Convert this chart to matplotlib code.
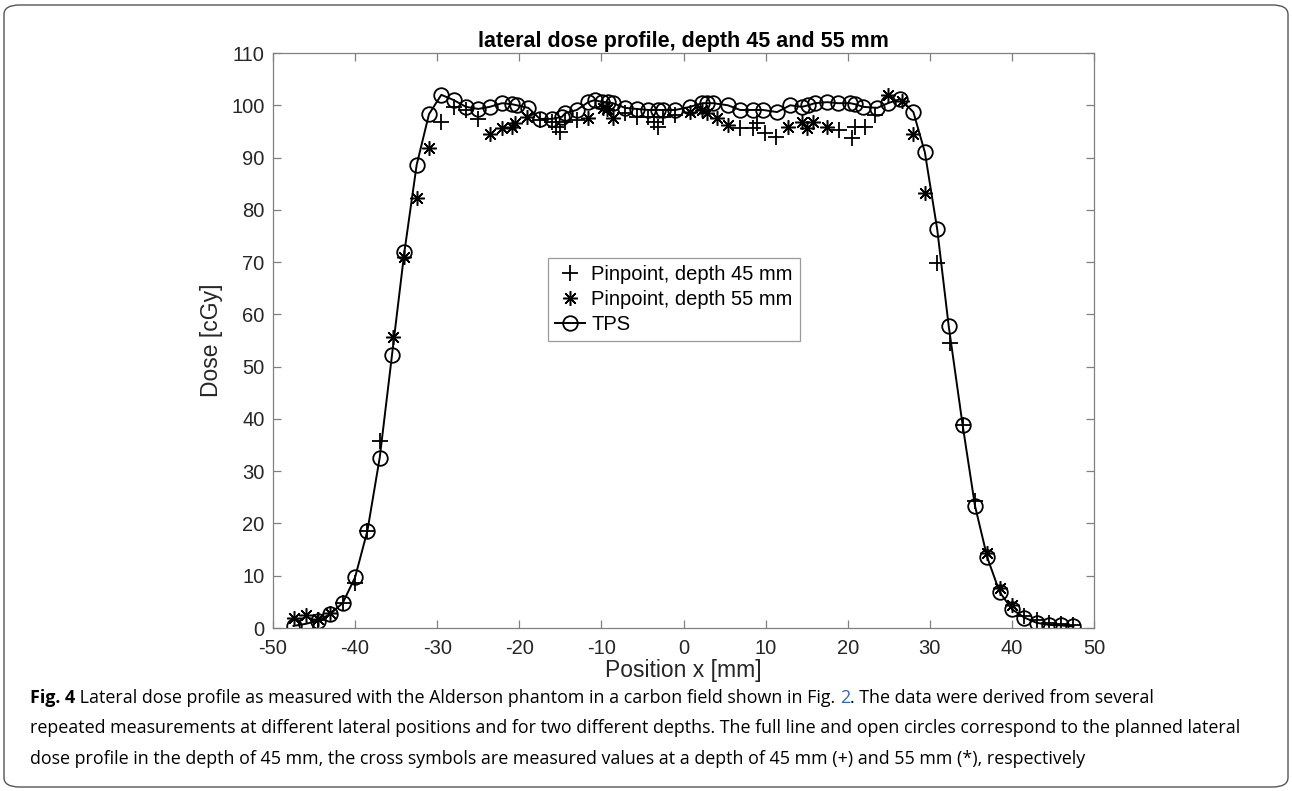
import matplotlib
matplotlib.use("Agg")
import matplotlib.pyplot as plt
from matplotlib.patches import FancyBboxPatch

# ── Data ──────────────────────────────────────────────────────────────────────
x_tps = [-47.5, -46, -44.5, -43, -41.5, -40, -38.5, -37, -35.5, -34, -32.5, -31,
         -29.5, -28, -26.5, -25, -23.6, -22.1, -20.9, -20.3, -18.9, -17.5, -16.0,
         -14.8, -14.4, -13.0, -11.6, -10.8, -9.9, -9.2, -8.6, -7.1, -5.7, -4.3,
         -3.1, -2.5, -1.0, 0.8, 2.3, 2.9, 3.6, 5.4, 6.9, 8.5, 9.7, 11.4, 13.0,
         14.4, 15.2, 16.0, 17.5, 18.8, 20.3, 20.9, 21.9, 23.6, 24.9, 26.4, 28.0,
         29.4, 30.9, 32.3, 34, 35.5, 37, 38.5, 40, 41.5, 43, 44.5, 46, 47.5]
y_tps = [0.4, 0.8, 1.4, 2.7, 4.8, 9.7, 18.6, 32.6, 52.3, 71.9, 88.6, 98.3,
         102.0, 101.0, 99.7, 99.3, 99.7, 100.4, 100.2, 100.0, 99.5, 97.4, 97.4,
         97.8, 98.5, 99.1, 100.6, 101.0, 100.6, 100.6, 100.4, 99.5, 99.3, 99.1,
         99.1, 99.1, 99.1, 99.7, 100.4, 100.4, 100.4, 100.0, 99.1, 99.1, 99.1,
         98.7, 100.0, 99.7, 100.0, 100.4, 100.6, 100.4, 100.4, 100.2, 99.7, 99.5,
         100.4, 101.2, 98.7, 91.0, 76.3, 57.8, 38.8, 23.4, 13.5, 6.9, 3.6, 2.0,
         1.0, 0.6, 0.5, 0.3]

x_45 = [-44.5, -41.5, -40, -38.5, -37, -29.5, -28, -26.5, -25, -17.5, -16,
        -15.5, -15, -14.4, -13, -7.1, -5.7, -4.3, -3.6, -3.1, -2.5, -1.0,
        6.9, 8.5, 9.0, 9.9, 11.3, 19.0, 20.5, 20.9, 22.1, 23.3,
        30.9, 32.5, 34, 35.5, 41.5, 43, 44.5, 46, 47.5]
y_45 = [1.6, 4.8, 8.6, 18.6, 35.8, 96.8, 99.7, 99.1, 97.4, 97.2, 96.8,
        95.8, 94.9, 96.8, 97.2, 98.5, 97.8, 97.8, 96.8, 95.8, 97.8, 98.1,
        95.6, 95.6, 96.6, 94.7, 93.9, 95.3, 93.7, 95.8, 95.8, 98.1,
        69.8, 54.5, 38.8, 24.3, 2.3, 1.5, 1.0, 0.8, 0.6]

x_55 = [-47.5, -46, -44.5, -43, -35.4, -34, -32.5, -31, -23.6, -22.1, -20.9,
        -20.5, -19.1, -11.6, -9.8, -9.3, -8.6, 0.8, 2.3, 2.9, 4.1, 5.4,
        12.7, 14.4, 15.0, 15.8, 17.5, 24.9, 26.6, 28, 29.4, 37, 38.5, 40]
y_55 = [1.9, 2.5, 1.8, 2.9, 55.7, 71.0, 82.3, 91.8, 94.5, 95.6, 95.8,
        96.6, 97.8, 97.6, 99.5, 99.3, 97.6, 98.7, 99.1, 98.5, 97.6, 96.2,
        95.8, 96.8, 95.6, 96.8, 95.8, 102.0, 100.8, 94.5, 83.2, 14.3, 7.6, 4.4]

xticks = list(range(-50, 51, 10))
yticks = list(range(0, 111, 10))

plt.rcParams["font.family"] = ["Liberation Sans", "DejaVu Sans"]
plt.rcParams["axes.unicode_minus"] = False

fig = plt.figure(figsize=(12.92, 7.91), dpi=100)
ax = fig.add_axes([273 / 1292, 1 - 628 / 791, 821 / 1292, 575 / 791])

asterisk = (8, 2, 0)
ax.plot(x_45, y_45, linestyle="none", marker="+", ms=11, mew=1.3,
        color="black", label="Pinpoint, depth 45 mm")
ax.plot(x_55, y_55, linestyle="none", marker=asterisk, ms=10.5, mew=1.1,
        color="black", label="Pinpoint, depth 55 mm")
ax.plot(x_tps, y_tps, "-o", color="black", lw=1.4, ms=10.5, mew=1.3,
        mfc="none", label="TPS")

ax.set_xlim(-50, 50)
ax.set_ylim(0, 110)
ax.set_xticks(xticks)
ax.set_yticks(yticks)
ax.tick_params(direction="in", length=6, width=0.9, colors="#808080",
               labelcolor="#262626", labelsize=14.5, top=True, right=True)
ax.tick_params(axis="x", pad=8)
ax.tick_params(axis="y", pad=6)
for sp in ax.spines.values():
    sp.set_color("#808080")
    sp.set_linewidth(0.9)

ax.set_xlabel("Position x [mm]", fontsize=16.5, color="#262626", labelpad=1)
ax.set_ylabel("Dose [cGy]", fontsize=16.5, color="#262626", labelpad=6)
ax.set_title("lateral dose profile, depth 45 and 55 mm", fontsize=15.5,
             fontweight="bold", pad=4)

leg = ax.legend(loc="upper left", bbox_to_anchor=(0.335, 0.643),
                borderaxespad=0, fontsize=14.5, handlelength=1.5,
                handletextpad=0.3, labelspacing=0.3, borderpad=0.35,
                frameon=True, fancybox=False, edgecolor="#808080")
leg.get_frame().set_linewidth(0.9)

# ── Caption ───────────────────────────────────────────────────────────────────
cap_font = ["Open Sans", "DejaVu Sans"]
cap_size = 12.9
lines = [
    [("Fig. 4", "bold", "black"),
     (" Lateral dose profile as measured with the Alderson phantom in a carbon field shown in Fig.\u00a0", "normal", "black"),
     ("2", "normal", "#2b6cb8"),
     (". The data were derived from several", "normal", "black")],
    [("repeated measurements at different lateral positions and for two different depths. "
      "The full line and open circles correspond to the planned lateral", "normal", "black")],
    [("dose profile in the depth of 45\u00a0mm, the cross symbols are measured values at a depth "
      "of 45\u00a0mm (+) and 55\u00a0mm (*), respectively", "normal", "black")],
]
line_y = [698, 728, 759]
renderer = fig.canvas.get_renderer()
for parts, ypix in zip(lines, line_y):
    xpix = 30
    for txt, weight, col in parts:
        t = fig.text(xpix / 1292, 1 - ypix / 791, txt, fontsize=cap_size,
                     family=cap_font, fontweight=weight, color=col,
                     va="center", ha="left")
        bb = t.get_window_extent(renderer=renderer)
        xpix += bb.width

frame = FancyBboxPatch((4 / 1292, 4 / 791), 1284 / 1292, 782 / 791,
                       boxstyle="round,pad=0,rounding_size=0.012",
                       transform=fig.transFigure, fill=False,
                       edgecolor="#555555", linewidth=1.0)
fig.patches.append(frame)

fig.savefig("out.png", dpi=100)
